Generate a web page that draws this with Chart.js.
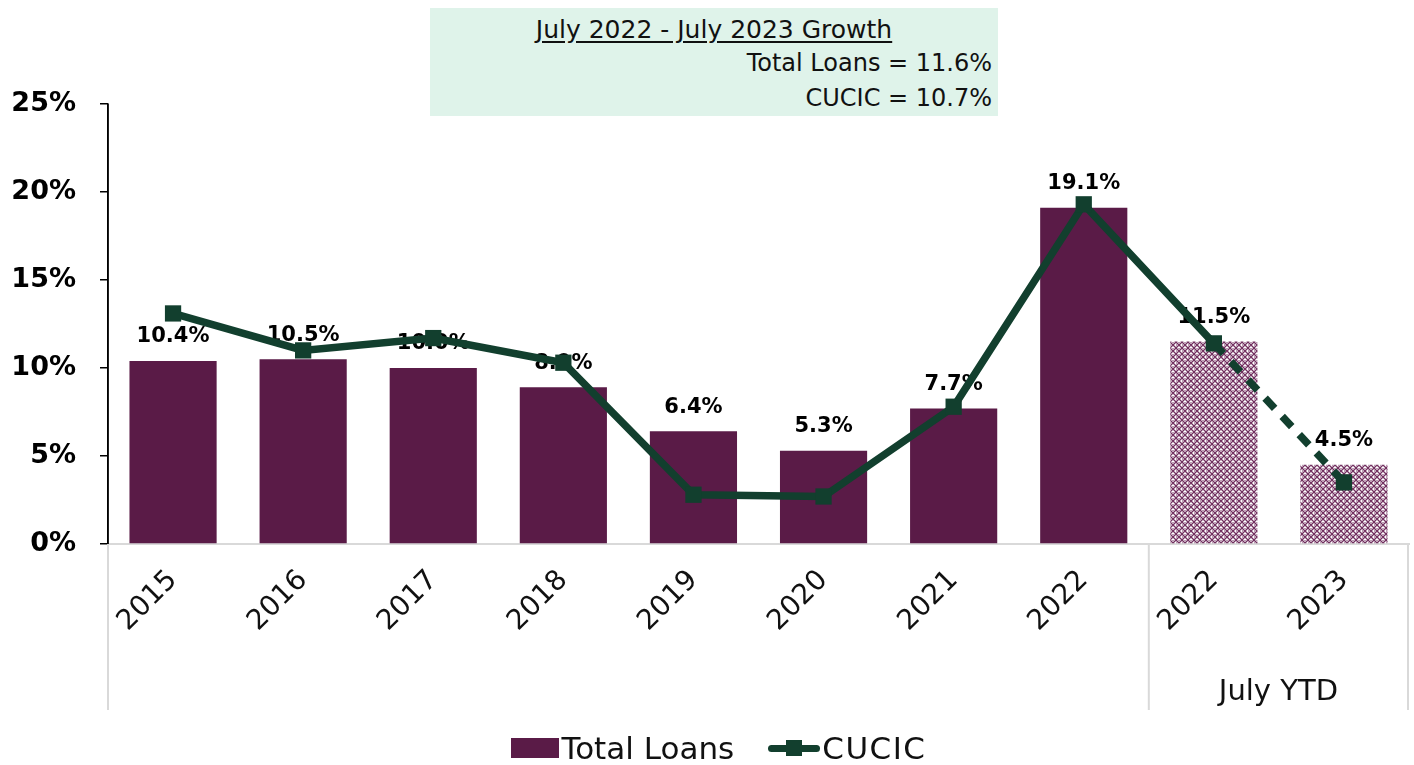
<!DOCTYPE html>
<html>
<head>
<meta charset="utf-8">
<script src="https://cdn.jsdelivr.net/npm/chart.js@4.4.1/dist/chart.umd.min.js"></script>
<style>
  html, body { margin: 0; padding: 0; background: #ffffff; }
  body { width: 1414px; height: 765px; position: relative; overflow: hidden; font-family: "DejaVu Sans", sans-serif; }
  #wrap { position: absolute; left: 0; top: 0; width: 1414px; height: 765px; }
  #growth {
    position: absolute; left: 430px; top: 8px; width: 568px; height: 108px;
    background: #dff3ea; color: #111; font-size: 24px; line-height: 35px; z-index: 2;
    box-sizing: border-box; padding: 5px 6px 0 0;
  }
  #growth .head { text-align: center; text-decoration: underline; text-underline-offset: 3px; padding-left: 6px; font-size: 25px; line-height: 33px; }
  #growth .row { text-align: right; }
  #legend {
    position: absolute; left: 0; top: 729px; width: 1414px; height: 37px; box-sizing: border-box; padding-left: 24px;
    display: flex; justify-content: center; align-items: center; font-size: 31px; color: #111;
  }
  .item { display: flex; align-items: center; }
  .swatch { width: 48px; height: 20px; background: #5a1b47; margin-right: 2px; }
  .lineIcon { position: relative; width: 52px; height: 20px; margin: 0 2px 0 34px; }
  .lineIcon::before { content: ""; position: absolute; left: 0; top: 7px; width: 52px; height: 7px; border-radius: 4px; background: #123f2e; }
  .lineIcon::after { content: ""; position: absolute; left: 18px; top: 2px; width: 16px; height: 16px; background: #123f2e; }
  .wide { letter-spacing: 1.5px; }
</style>
</head>
<body>
<div id="wrap"><canvas id="c" width="1414" height="765"></canvas></div>
<div id="growth">
  <div class="head">July 2022 - July 2023 Growth</div>
  <div class="row">Total Loans = 11.6%</div>
  <div class="row">CUCIC = 10.7%</div>
</div>
<div id="legend">
  <div class="item"><span class="swatch"></span>Total Loans</div>
  <div class="item"><span class="lineIcon"></span><span class="wide">CUCIC</span></div>
</div>
<script>
// Year categories; the last two belong to the "July YTD" group
const categories = ['2015', '2016', '2017', '2018', '2019', '2020', '2021', '2022', '2022', '2023'];
const groupLabel = 'July YTD';
const groupStart = 8;

// Annual growth rates, %
const totalLoans = [10.4, 10.5, 10.0, 8.9, 6.4, 5.3, 7.7, 19.1, 11.5, 4.5];
const cucic = [13.1, 11.0, 11.7, 10.3, 2.8, 2.7, 7.8, 19.3, 11.4, 3.5];

// Y axis ticks
const yTicks = [0, 5, 10, 15, 20, 25];

const MAROON = '#5a1b47';
const GREEN = '#123f2e';
const FONT = '"DejaVu Sans", sans-serif';

// Small diamond lattice tile for the year-to-date bars
function makePattern() {
  const t = document.createElement('canvas');
  t.width = 6; t.height = 6;
  const g = t.getContext('2d');
  g.fillStyle = '#ffffff';
  g.fillRect(0, 0, 6, 6);
  g.strokeStyle = '#723060';
  g.lineWidth = 1.3;
  g.beginPath();
  g.moveTo(0, 0); g.lineTo(6, 6);
  g.moveTo(6, 0); g.lineTo(0, 6);
  g.stroke();
  g.fillStyle = '#7a3867';
  g.fillRect(2.5, 0, 1, 1);
  g.fillRect(0, 2.5, 1, 1);
  return g.createPattern(t, 'repeat');
}
const pattern = makePattern();
const barColors = totalLoans.map((v, i) => i >= groupStart ? pattern : MAROON);

// Value labels above the bars, drawn before the line so the line sits on top
const barLabels = {
  id: 'barLabels',
  afterDatasetDraw(chart, args) {
    if (args.index !== 1) return;
    const ctx = chart.ctx;
    ctx.save();
    ctx.font = 'bold 21px ' + FONT;
    ctx.fillStyle = '#000';
    ctx.textAlign = 'center';
    ctx.textBaseline = 'middle';
    args.meta.data.forEach((bar, i) => {
      ctx.fillText(totalLoans[i].toFixed(1) + '%', bar.x, bar.y - 24);
    });
    ctx.restore();
  }
};

// Category axis frame: group separators and the group caption
const axisGroups = {
  id: 'axisGroups',
  afterDraw(chart) {
    const ctx = chart.ctx;
    const x = chart.scales.x;
    const y = chart.scales.y;
    const area = chart.chartArea;
    const half = (x.getPixelForValue(1) - x.getPixelForValue(0)) / 2;
    const bottom = 710;
    const seps = [x.left, x.getPixelForValue(groupStart) - half, x.right - 1];
    ctx.save();
    ctx.strokeStyle = '#d9d9d9';
    ctx.lineWidth = 2;
    seps.forEach(px => {
      ctx.beginPath();
      ctx.moveTo(px, area.bottom);
      ctx.lineTo(px, bottom);
      ctx.stroke();
    });
    ctx.font = '29px ' + FONT;
    ctx.fillStyle = '#111';
    ctx.textAlign = 'center';
    ctx.textBaseline = 'middle';
    ctx.fillText(groupLabel, (seps[1] + seps[2]) / 2, 692);
    // y axis line over the light frame
    ctx.strokeStyle = '#000';
    ctx.lineWidth = 1.5;
    ctx.beginPath();
    ctx.moveTo(x.left, y.top);
    ctx.lineTo(x.left, y.bottom);
    ctx.stroke();
    ctx.restore();
  }
};

new Chart(document.getElementById('c'), {
  data: {
    labels: categories,
    datasets: [
      {
        type: 'line',
        label: 'CUCIC',
        data: cucic,
        borderColor: GREEN,
        backgroundColor: GREEN,
        borderWidth: 7.5,
        pointStyle: 'rect',
        pointRadius: 11.5,
        pointBackgroundColor: GREEN,
        pointBorderWidth: 0,
        tension: 0,
        clip: false,
        order: 0,
        segment: {
          borderDash: ctx => ctx.p0DataIndex >= groupStart ? [14, 11] : undefined
        }
      },
      {
        type: 'bar',
        label: 'Total Loans',
        data: totalLoans,
        backgroundColor: barColors,
        barPercentage: 0.67,
        categoryPercentage: 1.0,
        order: 1
      }
    ]
  },
  options: {
    responsive: false,
    animation: false,
    layout: { autoPadding: false, padding: { top: 104, right: 5, left: 0, bottom: 0 } },
    plugins: { legend: { display: false }, tooltip: { enabled: false } },
    scales: {
      x: {
        grid: { display: false, drawTicks: false },
        border: { color: '#d9d9d9', width: 2 },
        ticks: {
          color: '#111',
          font: { family: FONT, size: 28 },
          maxRotation: 45, minRotation: 45,
          padding: 20
        },
        afterFit(scale) {
          scale.height = 221;
          scale.paddingLeft = 0;
          scale.paddingRight = 0;
        }
      },
      y: {
        min: 0, max: 25,
        afterBuildTicks(scale) { scale.ticks = yTicks.map(v => ({ value: v })); },
        grid: { drawOnChartArea: false, color: '#000', tickLength: 8, tickColor: '#000', lineWidth: 1.5 },
        border: { color: '#000', width: 1.5 },
        ticks: {
          color: '#000',
          font: { family: FONT, size: 27, weight: 'bold' },
          padding: 24,
          callback: v => v + '%'
        },
        afterFit(scale) { scale.width = 108; }
      }
    }
  },
  plugins: [barLabels, axisGroups]
});
</script>
</body>
</html>
